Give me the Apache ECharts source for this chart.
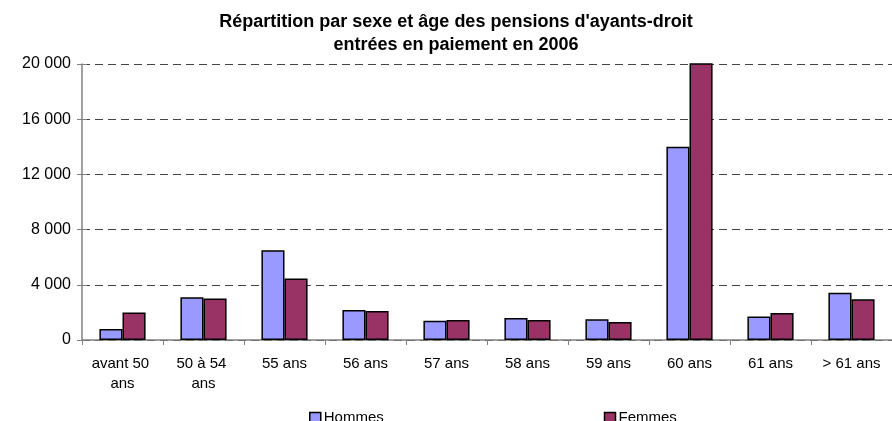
<!DOCTYPE html>
<html>
<head>
<meta charset="utf-8">
<script src="https://cdn.jsdelivr.net/npm/echarts@6/dist/echarts.min.js"></script>
<style>html,body{margin:0;padding:0;background:#fff;}#c{width:892px;height:421px;}</style>
</head>
<body>
<div id="c"></div>
<script>
var categories = ['avant 50 ans', '50 à 54 ans', '55 ans', '56 ans', '57 ans', '58 ans', '59 ans', '60 ans', '61 ans', '> 61 ans'];
var hommes = [800, 3100, 6500, 2170, 1400, 1600, 1500, 14000, 1700, 3430];
var femmes = [2000, 3000, 4450, 2100, 1450, 1450, 1300, 20100, 1950, 2950];
var yTicks = [0, 4000, 8000, 12000, 16000, 20000];
var titleLines = ["Répartition par sexe et âge des pensions d'ayants-droit", "entrées en paiement en 2006"];

var font = 'Liberation Sans, Arial, sans-serif';
var yMin = yTicks[0], yMax = yTicks[yTicks.length - 1], yStep = yTicks[1] - yTicks[0];
var chart = echarts.init(document.getElementById('c'), null, {renderer: 'canvas'});
chart.setOption({
  animation: false,
  backgroundColor: '#fff',
  title: {
    text: titleLines.join('\n'),
    left: 451, textAlign: 'center', top: 6,
    textStyle: {fontFamily: font, fontSize: 18, fontWeight: 'bold', color: '#000', lineHeight: 23}
  },
  legend: {
    top: 410, left: 309, padding: 0, itemGap: 220,
    itemWidth: 11, itemHeight: 10,
    icon: 'rect',
    itemStyle: {borderColor: '#000', borderWidth: 1.5},
    textStyle: {fontFamily: font, fontSize: 15, color: '#000', padding: [0, 0, 0, -2]},
    data: ['Hommes', 'Femmes']
  },
  grid: {left: 82, right: 0, top: 64, bottom: 81, containLabel: false},
  xAxis: {
    type: 'category', data: categories,
    axisLine: {lineStyle: {color: '#808080', width: 1.5}},
    axisTick: {show: true, length: 5, lineStyle: {color: '#808080'}},
    axisLabel: {fontFamily: font, fontSize: 15, color: '#000', margin: 14, width: 64, overflow: 'break', lineHeight: 20, interval: 0}
  },
  yAxis: [{
    type: 'value', min: yMin, max: yMax, interval: yStep,
    axisLine: {show: true, lineStyle: {color: '#808080', width: 1.5}},
    axisTick: {show: true, length: 5, lineStyle: {color: '#808080'}},
    axisLabel: {fontFamily: font, fontSize: 16, color: '#000', margin: 11,
      formatter: function (v) { return String(v).replace(/\B(?=(\d{3})+(?!\d))/g, ' '); }},
    splitLine: {show: true, lineStyle: {color: '#444', type: [8, 5], width: 1}}
  }, {
    type: 'value', min: yMin, max: yMax, interval: yStep, position: 'left', offset: 0,
    axisLine: {show: false},
    axisTick: {show: true, inside: true, length: 5, lineStyle: {color: '#808080'}},
    axisLabel: {show: false},
    splitLine: {show: false}
  }],
  series: [
    {name: 'Hommes', type: 'bar', data: hommes, barGap: '0%', barCategoryGap: '43%',
     itemStyle: {color: '#9999FF', borderColor: '#000', borderWidth: 1.5}},
    {name: 'Femmes', type: 'bar', data: femmes, barGap: '0%', barCategoryGap: '43%',
     itemStyle: {color: '#993366', borderColor: '#000', borderWidth: 1.5}}
  ]
});
</script>
</body>
</html>
